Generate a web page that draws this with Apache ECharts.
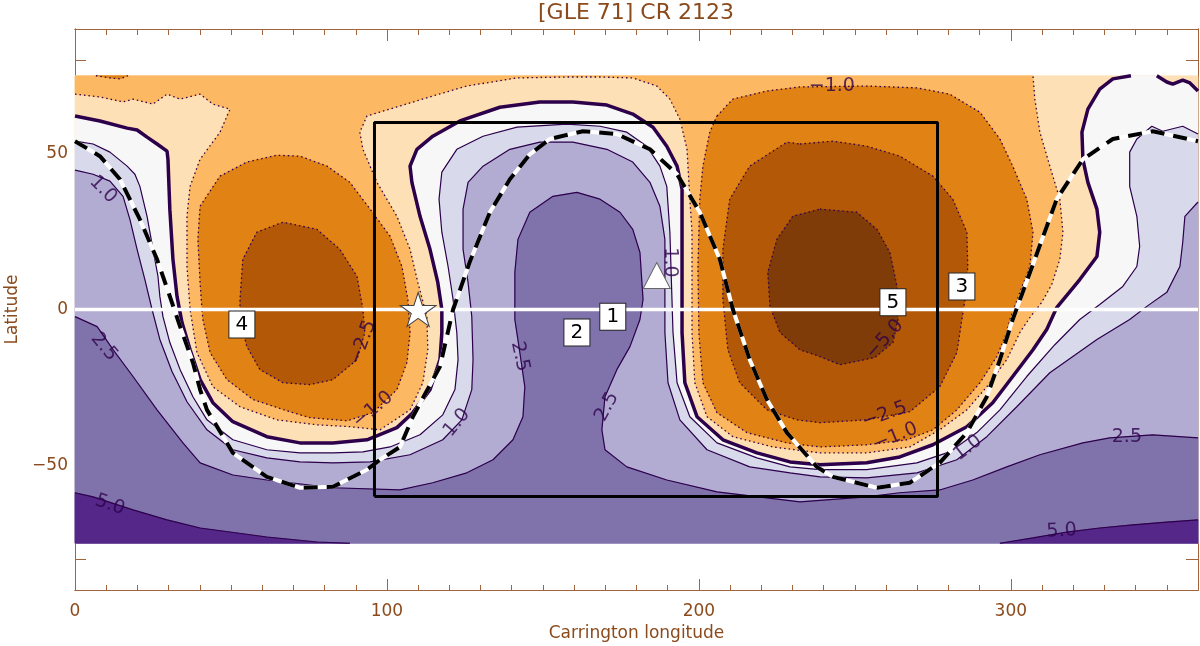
<!DOCTYPE html>
<html>
<head>
<meta charset="utf-8">
<title>[GLE 71] CR 2123</title>
<script src="https://cdn.jsdelivr.net/npm/echarts@6/dist/echarts.min.js"></script>
<style>
  html, body { margin: 0; padding: 0; background: #fff; }
  #main { width: 1200px; height: 646px; }
</style>
</head>
<body>
<div id="main"></div>
<script>
// contours, as [Carrington longitude, latitude]
// neutral line (0) and the positive (purple) levels
const neutralMain = [[0,62.1],[8.0,60.5],[16.7,58.2],[19.9,57.6],[23.1,55.3],[26.3,53.1],[29.5,50.8],[29.8,48.2],[30.4,32.2],[31.4,16.1],[32.7,4.2],[34.3,-4.2],[36.9,-12.9],[40.1,-22.5],[44.2,-29.9],[50.6,-36.0],[61.5,-40.8],[72.1,-42.8],[82.7,-42.8],[93.6,-41.8],[103.2,-37.9],[108.3,-33.1],[113.8,-25.7],[117.0,-16.1],[117.6,-7.4],[117.6,0],[116.3,8.7],[113.8,19.3],[110.6,29.9],[108.0,40.8],[107.4,46.0],[109.6,51.4],[114.7,55.6],[123.4,60.5],[136.2,64.9],[149.0,66.6],[159.6,66.6],[170.5,65.6],[178.8,62.7],[185.3,58.5],[189.7,52.4],[193.0,46.0],[194.6,38.6],[194.6,24.8],[194.6,-7.4],[195.5,-23.5],[199.4,-34.4],[207.7,-41.8],[218.6,-46.0],[229.2,-48.9],[238.8,-49.8],[253.8,-49.2],[264.4,-47.3],[275.0,-43.4],[285.9,-37.6],[294.2,-29.9],[300.6,-21.5],[307.1,-12.9],[311.5,-6.4],[314.7,0.6],[322.1,9.6],[327.6,17.0],[328.5,24.8],[327.6,32.2],[324.7,40.8],[323.1,48.2],[322.8,56.9],[324.7,64.3],[328.5,70.7],[332.7,74.0],[338.5,75]];
const neutralTop = [[346.8,75],[350.0,73.0],[351.9,72.3],[355.1,73.6],[357.4,72.7],[360,70.1]];
const posHalf = [[0,54.0],[5.8,53.1],[11.2,50.5],[16.7,46.0],[19.2,43.4],[20.8,39.5],[23.1,29.9],[25.0,19.3],[26.6,10.6],[27.2,4.2],[28.2,-2.3],[30.4,-10.6],[33.7,-19.3],[37.8,-28.0],[42.3,-35.4],[50.6,-41.8],[61.5,-45.0],[72.1,-46.0],[82.7,-46.0],[92.3,-45.7],[101.0,-44.1],[110.6,-40.2],[117.9,-33.8],[121.8,-25.7],[122.8,-16.1],[122.4,-7.4],[121.2,3.2],[119.6,13.8],[117.6,24.8],[116.7,35.4],[117.6,44.1],[122.4,51.4],[130.8,55.6],[141.7,58.5],[157.7,59.5],[168.3,58.8],[176.9,56.9],[183.3,52.4],[187.5,46.0],[189.7,39.5],[190.7,24.8],[191.7,-7.4],[193.0,-23.5],[197.1,-34.4],[205.8,-42.8],[218.6,-47.6],[229.2,-50.5],[238.8,-51.4],[253.8,-51.4],[269.9,-49.2],[280.4,-45.7],[289.1,-39.5],[296.5,-32.2],[305.1,-21.5],[314.1,-11.3],[322.1,-3.2],[328.5,1.6],[335.9,7.4],[340.4,13.8],[341.3,20.3],[340.4,29.9],[338.1,39.5],[338.1,50.5],[340.4,54.7],[345.2,58.8],[348.7,57.2],[355.1,58.8],[360,56.3]];
const posOne = [[0,44.7],[5.8,43.4],[11.2,41.2],[15.4,36.3],[17.6,28.9],[19.9,19.3],[22.4,9.6],[24.7,0],[27.2,-9.6],[31.1,-19.9],[35.9,-29.6],[42.3,-38.6],[50.6,-45.0],[61.5,-47.6],[72.1,-48.9],[82.7,-49.2],[94.6,-48.9],[107.4,-46.6],[117.9,-41.8],[124.0,-35.4],[127.2,-25.7],[127.6,-16.1],[127.2,-2.3],[126.0,8.7],[124.4,19.3],[124.4,32.2],[126.0,40.8],[130.8,46.0],[139.4,51.4],[149.0,53.7],[159.6,53.7],[170.5,51.4],[178.8,47.3],[184.3,40.8],[187.5,33.1],[189.1,22.5],[189.1,-7.4],[190.1,-23.5],[193.9,-35.4],[202.6,-45.0],[216.3,-50.5],[229.2,-52.4],[238.8,-53.7],[253.8,-54.0],[269.9,-52.4],[282.7,-48.2],[292.3,-40.8],[301.9,-31.2],[312.5,-20.3],[327.6,-9.6],[338.1,-3.2],[343.6,1.0],[350.0,5.5],[354.2,13.8],[355.1,21.5],[355.8,29.9],[360,34.5]];
const posTwoHalf = [[0,-2.3],[7.1,-5.5],[12.2,-12.9],[18.6,-21.5],[26.3,-32.2],[34.6,-42.8],[40.1,-49.2],[50.6,-53.1],[61.5,-54.7],[82.7,-57.2],[104.2,-57.9],[114.7,-55.6],[125.6,-52.4],[134.0,-48.2],[140.4,-41.8],[143.6,-34.4],[144.2,-24.8],[142.6,-13.8],[141.0,-3.2],[141.0,11.9],[142.0,22.5],[145.8,31.2],[153.2,36.3],[160.9,37.6],[168.3,35.4],[174.7,31.2],[178.8,25.7],[181.1,18.3],[182.1,3.2],[181.1,-3.2],[177.9,-11.9],[173.7,-19.3],[169.9,-28.0],[168.9,-38.6],[169.9,-45.0],[176.9,-50.5],[189.7,-54.7],[205.8,-58.5],[232.4,-61.7],[253.8,-60.1],[264.4,-58.8],[277.2,-57.9],[287.8,-54.7],[298.7,-50.5],[309.3,-46.6],[323.1,-42.8],[331.7,-41.2],[345.5,-40.2],[360,-41.2]];
const posFiveWest = [[0,-58.8],[5.8,-60.1],[18.6,-64.3],[29.5,-67.5],[40.1,-70.1],[61.5,-73.0],[77.6,-74.6],[88.1,-75]];
const posFiveEast = [[296.5,-75],[307.1,-73.3],[318.0,-71.4],[328.5,-70.1],[339.1,-69.1],[350.0,-68.2],[360,-67.5]];

// negative (orange) levels
const negHalf = [[0,69.1],[8.0,68.2],[15.4,66.6],[18.6,67.5],[25.0,65.9],[29.5,69.1],[33.7,67.5],[40.1,69.1],[44.2,65.9],[49.7,64.3],[46.5,56.9],[40.1,48.2],[36.9,39.5],[35.9,29.9],[35.9,13.8],[36.9,0],[39.1,-13.8],[44.2,-24.8],[52.9,-31.2],[64.7,-35.4],[77.6,-37.0],[88.1,-37.6],[97.8,-38.6],[107.4,-32.2],[111.5,-23.5],[113.1,-12.9],[112.8,-2.3],[109.9,8.7],[107.4,19.3],[103.2,29.9],[96.8,40.8],[92.3,51.4],[91.3,56.9],[93.6,62.1],[104.2,65.3],[114.7,68.5],[125.6,71.7],[141.7,74.3],[157.7,74.6],[168.3,74.6],[178.8,74.3],[186.5,71.7],[190.7,67.5],[193.9,61.1],[196.2,51.4],[197.1,35.4],[197.8,24.8],[197.8,-7.4],[198.7,-23.5],[202.6,-34.4],[210.9,-40.8],[223.7,-44.1],[238.8,-46.0],[253.8,-46.0],[267.6,-44.1],[277.2,-38.6],[285.9,-32.2],[292.3,-24.8],[298.7,-16.1],[302.9,-7.4],[306.1,-2.6],[309.9,2.3],[313.1,8.0],[315.7,16.1],[316.7,24.8],[315.7,35.4],[312.5,46.0],[309.3,56.9],[307.7,67.5],[307.1,75]];
const negOneBump = [[6.7,75],[11.2,74.3],[14.4,74.0],[17.0,75]];
const negOneWest = [[40.7,0],[40.1,8.7],[39.4,22.5],[40.1,33.1],[46.5,42.8],[55.1,47.3],[64.7,49.5],[72.1,49.2],[80.8,46.0],[88.1,40.8],[94.6,32.2],[101.0,23.5],[104.8,13.8],[106.7,3.2],[107.4,-7.4],[106.4,-17.0],[103.2,-25.7],[95.5,-33.1],[87.2,-35.7],[75.3,-34.7],[68.9,-32.8],[57.1,-28.9],[48.7,-22.5],[43.3,-13.8],[41.0,-3.2]];
const negOneEast = [[205.8,62.1],[210.9,67.5],[221.8,70.1],[232.4,71.4],[253.8,71.7],[269.9,71.1],[280.4,69.1],[290.1,63.3],[296.5,54.7],[300.6,46.0],[305.1,35.4],[307.1,24.8],[306.1,13.8],[302.9,5.5],[299.7,-3.2],[298.7,-7.4],[295.5,-15.1],[290.1,-23.5],[282.7,-32.2],[275.0,-38.6],[266.7,-41.8],[253.8,-43.4],[238.8,-44.1],[228.2,-42.8],[215.4,-39.5],[205.8,-33.1],[201.3,-23.5],[200.0,-7.4],[199.7,13.8],[200.3,35.4],[201.3,46.0],[203.5,56.9]];
const negTwoHalfWest = [[52.9,-3.2],[52.9,3.2],[53.8,16.1],[58.3,24.8],[66.7,28.0],[77.6,25.7],[84.9,19.3],[90.4,10.6],[92.3,0],[92.9,-7.4],[90.4,-16.1],[82.7,-22.5],[75.3,-24.1],[66.7,-23.5],[59.3,-19.3],[55.1,-11.9]];
const negTwoHalfEast = [[232.4,53.1],[243.0,54.0],[253.8,52.4],[264.4,49.2],[275.0,42.8],[281.4,35.4],[285.9,24.8],[286.2,13.8],[285.3,3.2],[284.3,-3.2],[282.7,-13.8],[277.2,-24.8],[267.6,-32.8],[253.8,-35.4],[238.8,-36.3],[231.4,-35.4],[221.8,-32.2],[213.1,-23.5],[209.3,-12.9],[207.7,3.2],[207.7,19.3],[209.9,35.4],[216.3,46.0],[228.2,53.7]];
const negFiveEast = [[238.8,32.2],[250.6,31.2],[257.1,25.7],[261.2,18.3],[263.5,7.4],[263.8,-3.2],[262.2,-10.6],[256.4,-15.4],[245.2,-17.7],[238.8,-15.1],[232.4,-12.9],[226.0,-7.4],[222.8,1.0],[222.1,11.9],[225.0,22.5],[230.1,29.9]];

// dashed curve
const dashedCurve = [[0,54.0],[8.0,49.2],[14.4,41.8],[20.8,28.9],[26.3,16.1],[30.4,4.2],[33.7,-5.5],[37.8,-17.0],[40.1,-25.7],[42.3,-32.2],[50.6,-46.0],[61.5,-53.7],[72.1,-57.2],[82.7,-56.9],[93.6,-51.4],[97.8,-48.2],[104.2,-44.1],[108.3,-34.4],[117.0,-18.3],[121.2,0],[126.6,15.4],[133.0,31.2],[139.4,41.8],[145.8,49.8],[152.2,54.7],[162.8,57.2],[173.7,56.3],[184.3,51.4],[193.0,43.4],[200.3,31.2],[206.7,16.1],[210.9,0],[216.3,-16.1],[221.8,-28.9],[228.2,-39.5],[237.8,-50.5],[243.0,-53.7],[257.1,-57.2],[267.6,-55.6],[277.2,-49.2],[285.9,-39.5],[292.3,-28.0],[296.5,-16.1],[300.6,-3.2],[307.1,14.5],[314.7,35.4],[323.1,48.2],[332.7,54.7],[345.5,57.2],[360,54.0]];

const dataBand = [-75, 75];          // latitude range of the field
const equator = [[0, 0], [360, 0]];
const boxLon = [96, 276.5];
const boxLat = [-60, 60];
const starSite = [[110, 0]];
const triangleSite = [[186.5, 10.9]];
const numberedSites = [[53.5, -4.8, '4'], [160.9, -7.4, '2'], [172.4, -2.3, '1'], [262.2, 2.3, '5'], [284.3, 7.4, '3']];
// contour level labels: lon, lat, text, angle
const levelLabels = [
  [9.0, 38.5, '1.0', -45], [9.3, -12.0, '2.5', -50], [11.2, -62.7, '5.0', -20],
  [92.3, -10.6, '−2.5', 70], [95.5, -32.2, '−1.0', 40], [122.4, -36.3, '1.0', 50],
  [142.6, -15.1, '2.5', -78], [170.5, -31.2, '2.5', 62], [190.7, 15.1, '1.0', -90],
  [259.6, -9.6, '−5.0', 48], [259.6, -33.8, '−2.5', 20], [263.0, -40.8, '−1.0', 22],
  [286.2, -44.4, '1.0', 38], [337.2, -40.8, '2.5', 0], [316.3, -71.1, '5.0', 3],
  [242.6, 71.7, '−1.0', 0]
];
const lonTicks = [0, 100, 200, 300];
const latTicks = [-50, 0, 50];
const lonMinor = [];
for (let v = 10; v < 360; v += 10) if (v % 100 !== 0) lonMinor.push(v);
const latMinor = [-80, -70, -60, -40, -30, -20, -10, 10, 20, 30, 40, 60, 70, 80];

const puor = {
  n5: '#7f3b08', n25: '#b35806', n1: '#e08214', n05: '#fdb863', n0: '#fee0b6',
  p0: '#f7f7f7', p05: '#d8daeb', p1: '#b2abd2', p25: '#8073ac', p5: '#542788'
};
const lineInk = '#2d004b';
const axisColor = '#a2643a';
const textColor = '#8a4a1c';
const font = 'DejaVu Sans';

const W = 0, E = 360, S = dataBand[0], N = dataBand[1];
const fills = [
  { pts: [[W, S], [E, S], [E, N], [W, N]], color: puor.n0 },
  { pts: [[W, N]].concat(negHalf), color: puor.n05 },
  { pts: negOneBump, color: puor.n1 },
  { pts: negOneWest, color: puor.n1 },
  { pts: negOneEast, color: puor.n1 },
  { pts: negTwoHalfWest, color: puor.n25 },
  { pts: negTwoHalfEast, color: puor.n25 },
  { pts: negFiveEast, color: puor.n5 },
  { pts: neutralMain.concat(neutralTop, [[E, S], [W, S]]), color: puor.p0 },
  { pts: posHalf.concat([[E, S], [W, S]]), color: puor.p05 },
  { pts: posOne.concat([[E, S], [W, S]]), color: puor.p1 },
  { pts: posTwoHalf.concat([[E, S], [W, S]]), color: puor.p25 },
  { pts: posFiveWest.concat([[W, S]]), color: puor.p5 },
  { pts: posFiveEast.concat([[E, S]]), color: puor.p5 }
];

const closed = a => a.concat([a[0]]);
function contour(data, style, z) {
  return { type: 'line', data: data, symbol: 'none', silent: true, z: z || 3, lineStyle: style };
}
const solid = { color: lineInk, width: 1.2 };
const dotted = { color: lineInk, width: 1.3, type: [1.5, 3] };
const thick = { color: lineInk, width: 3.5 };

const chart = echarts.init(document.getElementById('main'));

function xFrame(pos, values, len, labels) {
  return {
    type: 'value', min: 0, max: 360, position: pos,
    axisLine: { show: true, onZero: false, lineStyle: { color: axisColor, width: 1 } },
    axisTick: { show: true, inside: true, length: len, customValues: values, lineStyle: { color: axisColor, width: 1 } },
    axisLabel: labels ? { customValues: lonTicks, color: textColor, fontSize: 17, fontFamily: font, margin: 13 } : { show: false },
    splitLine: { show: false },
    name: labels ? 'Carrington longitude' : '',
    nameLocation: 'middle', nameGap: 35,
    nameTextStyle: { color: textColor, fontSize: 17, fontFamily: font }
  };
}
function yFrame(pos, values, len, labels) {
  return {
    type: 'value', min: -90, max: 90, position: pos,
    axisLine: { show: true, onZero: false, lineStyle: { color: axisColor, width: 1 } },
    axisTick: { show: true, inside: true, length: len, customValues: values, lineStyle: { color: axisColor, width: 1 } },
    axisLabel: labels ? { customValues: latTicks, color: textColor, fontSize: 17, fontFamily: font, margin: 7,
      formatter: v => String(v).replace('-', '−') } : { show: false },
    splitLine: { show: false },
    name: labels ? 'Latitude' : '',
    nameLocation: 'middle', nameGap: 54, nameRotate: 90,
    nameTextStyle: { color: textColor, fontSize: 17, fontFamily: font }
  };
}

chart.setOption({
  animation: false,
  backgroundColor: '#fff',
  title: {
    text: '[GLE 71] CR 2123', left: 636, top: 2, padding: 0, textAlign: 'center',
    textStyle: { color: textColor, fontSize: 22, fontWeight: 'normal', fontFamily: font }
  },
  grid: { left: 75, right: 2, top: 29, bottom: 56, containLabel: false, outerBoundsMode: 'none' },
  xAxis: [
    xFrame('bottom', lonTicks, 11, true),
    xFrame('bottom', lonMinor, 5, false),
    xFrame('top', lonTicks, 12, false),
    xFrame('top', lonMinor, 6, false)
  ],
  yAxis: [
    yFrame('left', latTicks, 22, true),
    yFrame('left', latMinor, 11, false),
    yFrame('right', latTicks, 23, false),
    yFrame('right', latMinor, 12, false)
  ],
  series: [
    {
      type: 'custom', silent: true, z: 1,
      data: fills.map(f => f.pts[0]),
      renderItem: (params, api) => {
        const f = fills[params.dataIndex];
        return {
          type: 'polygon',
          shape: { points: f.pts.map(p => api.coord(p)) },
          style: { fill: f.color, stroke: f.color, lineWidth: 0.6 }
        };
      }
    },
    contour(negHalf, dotted),
    contour(negOneBump, dotted),
    contour(closed(negOneWest), dotted),
    contour(closed(negOneEast), dotted),
    contour(closed(negTwoHalfWest), dotted),
    contour(closed(negTwoHalfEast), dotted),
    contour(closed(negFiveEast), dotted),
    contour(posHalf, solid),
    contour(posOne, solid),
    contour(posTwoHalf, solid),
    contour(posFiveWest, solid),
    contour(posFiveEast, solid),
    contour(neutralMain, thick, 4),
    contour(neutralTop, thick, 4),
    contour(equator, { color: '#ffffff', width: 3.5 }, 5),
    contour(dashedCurve, { color: '#ffffff', width: 4 }, 6),
    contour(dashedCurve, { color: '#000000', width: 4, type: [14, 9] }, 7),
    contour([[boxLon[0], boxLat[0]], [boxLon[1], boxLat[0]], [boxLon[1], boxLat[1]], [boxLon[0], boxLat[1]], [boxLon[0], boxLat[0]]],
      { color: '#000000', width: 3 }, 8),
    {
      type: 'scatter', silent: true, z: 10, data: levelLabels.map(d => ({
        value: [d[0], d[1]],
        label: { rotate: d[3], formatter: d[2] }
      })),
      symbolSize: 1, itemStyle: { color: 'rgba(0,0,0,0)' },
      label: { show: true, position: 'inside', color: lineInk, fontSize: 19, fontFamily: font }
    },
    {
      type: 'scatter', silent: true, z: 11, data: starSite,
      symbol: 'path://M50,0 L61.8,36.2 L100,36.2 L69.1,58.8 L80.9,95.1 L50,72.6 L19.1,95.1 L30.9,58.8 L0,36.2 L38.2,36.2 Z',
      symbolSize: [36, 34],
      itemStyle: { color: '#ffffff', opacity: 1, borderColor: '#444', borderWidth: 1 }
    },
    {
      type: 'scatter', silent: true, z: 11, data: triangleSite,
      symbol: 'triangle', symbolSize: [27, 26],
      itemStyle: { color: '#ffffff', opacity: 1, borderColor: '#666', borderWidth: 1 }
    },
    {
      type: 'scatter', silent: true, z: 12, data: numberedSites,
      symbol: 'rect', symbolSize: [26, 27],
      itemStyle: { color: '#ffffff', opacity: 1, borderColor: '#222', borderWidth: 1 },
      label: { show: true, position: 'inside', formatter: p => p.value[2], color: '#000', fontSize: 20, fontFamily: font }
    }
  ]
});
</script>
</body>
</html>
